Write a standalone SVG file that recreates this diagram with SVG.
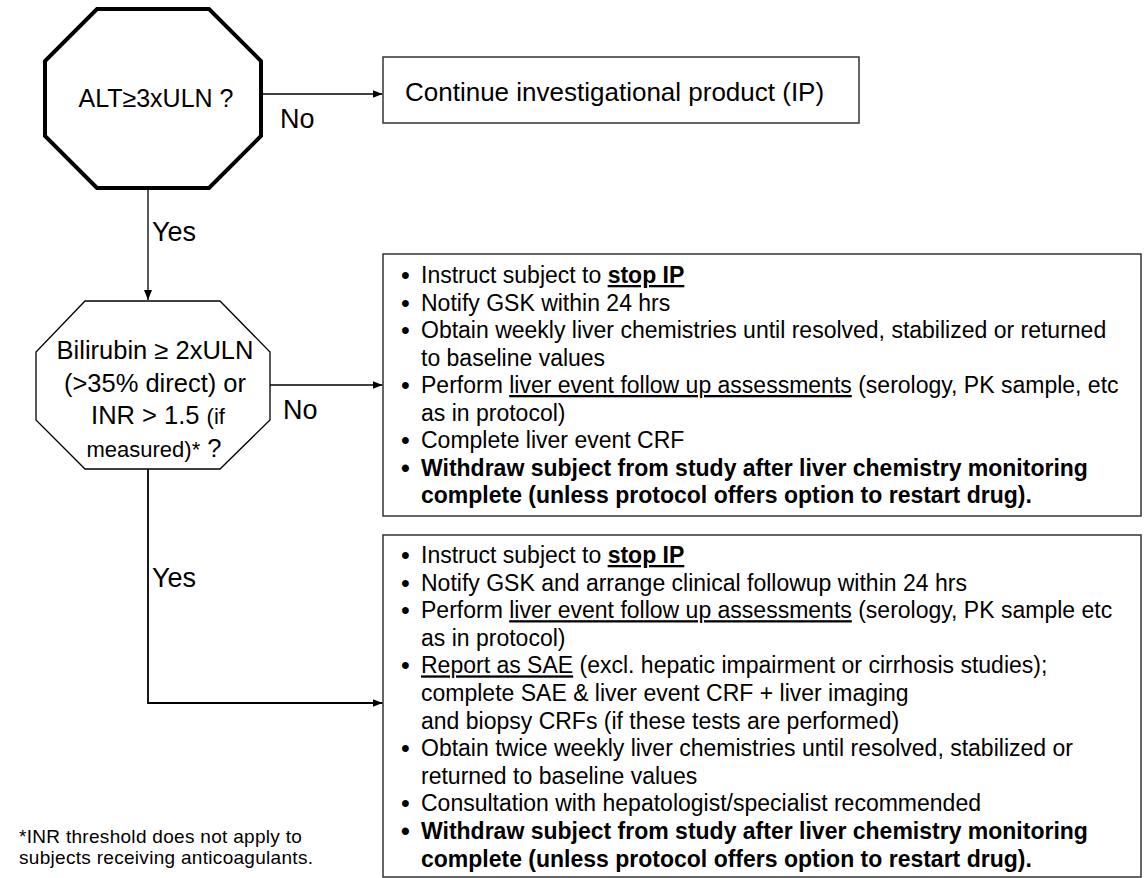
<svg xmlns="http://www.w3.org/2000/svg" width="1146" height="878" viewBox="0 0 1146 878">
<style>
.oct1{fill:#fff;stroke:#000;stroke-width:4;stroke-linejoin:miter}
.oct2{fill:#fff;stroke:#000;stroke-width:1.3}
.box{fill:#fff;stroke:#333;stroke-width:1.5}
.t{font-family:"Liberation Sans",Arial,sans-serif;fill:#000}
.bt{font-size:23px}
.bul{font-size:25px}
.b{font-weight:bold}
.u{text-decoration:underline}
.lbl{font-size:27px}
.conn{stroke:#000;stroke-width:1.3;fill:none;marker-end:url(#ah)}
</style>
<defs>
<marker id="ah" markerUnits="userSpaceOnUse" markerWidth="10" markerHeight="8" refX="10" refY="4" orient="auto">
<path d="M0,0 L10,4 L0,8 z" fill="#000"/>
</marker>
</defs>

<g id="connectors">
<path class="conn" d="M261,94 H382.5"/>
<path class="conn" d="M148,190 V300"/>
<path class="conn" d="M270,385 H382.5"/>
<path class="conn" d="M148,469 V703 H382.5" style="stroke-width:1.8"/>
<text class="t lbl" x="280" y="128">No</text>
<text class="t lbl" x="152" y="241">Yes</text>
<text class="t lbl" x="283" y="419">No</text>
<text class="t lbl" x="152" y="587">Yes</text>
</g>

<g id="q1">
<polygon class="oct1" points="97,9 209,9 261,61 261,136 209,188 97,188 45,136 45,61"/>
<text class="t" x="156" y="107" text-anchor="middle" font-size="25">ALT≥3xULN ?</text>
</g>

<g id="continue">
<rect class="box" x="383" y="57" width="476" height="66"/>
<text class="t" x="405" y="101" font-size="26">Continue investigational product (IP)</text>
</g>

<g id="q2">
<polygon class="oct2" points="85,301 220,301 270,352 270,420 220,469 85,469 36,420 36,352"/>
<text class="t" x="155" y="359" text-anchor="middle" font-size="25.5">Bilirubin ≥ 2xULN</text>
<text class="t" x="155" y="392" text-anchor="middle" font-size="25.5">(&gt;35% direct) or</text>
<text class="t" x="158" y="424" text-anchor="middle" font-size="25.5">INR &gt; 1.5 <tspan font-size="22">(if</tspan></text>
<text class="t" x="154" y="457" text-anchor="middle" font-size="25.5"><tspan font-size="22">measured)*</tspan> ?</text>
</g>

<g id="box-no">
<rect class="box" x="383" y="254" width="758" height="262"/>
<text class="t bul" x="401" y="284">•</text>
<text class="t bt" x="421" y="283">Instruct subject to <tspan class="b u">stop IP</tspan></text>
<text class="t bul" x="401" y="311.5">•</text>
<text class="t bt" x="421" y="310.5">Notify GSK within 24 hrs</text>
<text class="t bul" x="401" y="339">•</text>
<text class="t bt" x="421" y="338">Obtain weekly liver chemistries until resolved, stabilized or returned</text>
<text class="t bt" x="421" y="365.5">to baseline values</text>
<text class="t bul" x="401" y="394">•</text>
<text class="t bt" x="421" y="393">Perform <tspan class="u">liver event follow up assessments</tspan> (serology, PK sample, etc</text>
<text class="t bt" x="421" y="420.5">as in protocol)</text>
<text class="t bul" x="401" y="449">•</text>
<text class="t bt" x="421" y="448">Complete liver event CRF</text>
<text class="t bul b" x="401" y="476.5">•</text>
<text class="t bt b" x="421" y="475.5">Withdraw subject from study after liver chemistry monitoring</text>
<text class="t bt b" x="421" y="503">complete (unless protocol offers option to restart drug).</text>
</g>

<g id="box-yes">
<rect class="box" x="383" y="535" width="758" height="342"/>
<text class="t bul" x="401" y="564">•</text>
<text class="t bt" x="421" y="563">Instruct subject to <tspan class="b u">stop IP</tspan></text>
<text class="t bul" x="401" y="591.6">•</text>
<text class="t bt" x="421" y="590.6">Notify GSK and arrange clinical followup within 24 hrs</text>
<text class="t bul" x="401" y="619.2">•</text>
<text class="t bt" x="421" y="618.2">Perform <tspan class="u">liver event follow up assessments</tspan> (serology, PK sample etc</text>
<text class="t bt" x="421" y="645.8">as in protocol)</text>
<text class="t bul" x="401" y="674.4">•</text>
<text class="t bt" x="421" y="673.4"><tspan class="u">Report as SAE</tspan> (excl. hepatic impairment or cirrhosis studies);</text>
<text class="t bt" x="421" y="701">complete SAE &amp; liver event CRF + liver imaging</text>
<text class="t bt" x="421" y="728.6">and biopsy CRFs (if these tests are performed)</text>
<text class="t bul" x="401" y="757.2">•</text>
<text class="t bt" x="421" y="756.2">Obtain twice weekly liver chemistries until resolved, stabilized or</text>
<text class="t bt" x="421" y="783.8">returned to baseline values</text>
<text class="t bul" x="401" y="812.4">•</text>
<text class="t bt" x="421" y="811.4">Consultation with hepatologist/specialist recommended</text>
<text class="t bul b" x="401" y="840">•</text>
<text class="t bt b" x="421" y="839">Withdraw subject from study after liver chemistry monitoring</text>
<text class="t bt b" x="421" y="866.6">complete (unless protocol offers option to restart drug).</text>
</g>

<g id="footnote">
<text class="t" x="19" y="843" font-size="19" letter-spacing="0.3">*INR threshold does not apply to</text>
<text class="t" x="19" y="864" font-size="19" letter-spacing="0.3">subjects receiving anticoagulants.</text>
</g>
</svg>
